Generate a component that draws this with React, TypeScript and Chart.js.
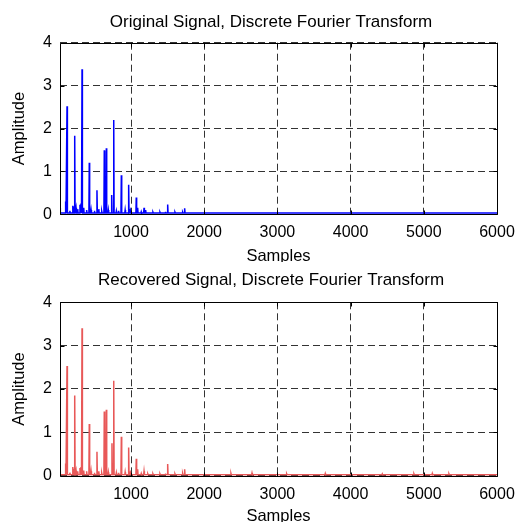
import React, { useEffect, useRef } from "react";
import { Chart, registerables } from "chart.js";

Chart.register(...registerables);

// ---- data ----
const xTicks = [1000, 2000, 3000, 4000, 5000, 6000];
const yTicks = [0, 1, 2, 3, 4];
const xMin = 30;
const xMax = 6000;

const titleTop = "Original Signal, Discrete Fourier Transform";
const titleBottom = "Recovered Signal, Discrete Fourier Transform";
const xLabel = "Samples";
const yLabel = "Amplitude";

// Original signal spectrum: peak positions (samples) and amplitudes
const origX = [32, 107, 126, 165, 203, 212, 231, 249, 272, 303, 317, 331, 354, 394, 430, 455, 500, 535, 560, 600, 635, 663, 690, 736, 764, 800, 830, 868, 920, 968, 990, 1072, 1091, 1140, 1178, 1200, 1300, 1396, 1470, 1501, 1601, 1706, 1733];
const origAmp = [0.15, 0.3, 2.52, 0.08, 0.2, 0.18, 1.83, 0.15, 0.12, 0.22, 0.25, 3.38, 0.15, 0.1, 1.2, 0.1, 0.08, 0.56, 0.12, 0.07, 1.49, 1.54, 0.1, 0.45, 2.2, 0.08, 0.08, 0.91, 0.1, 0.69, 0.1, 0.39, 0.15, 0.06, 0.15, 0.1, 0.05, 0.05, 0.06, 0.23, 0.05, 0.05, 0.14];
const origBase = 0.03;

// Recovered signal spectrum
const recX = [32, 107, 126, 165, 203, 212, 231, 249, 272, 303, 317, 331, 354, 394, 430, 455, 500, 535, 560, 600, 635, 663, 690, 740, 764, 800, 830, 868, 920, 968, 990, 1072, 1091, 1140, 1178, 1230, 1300, 1396, 1470, 1501, 1601, 1706, 1733, 2366, 2653, 3127, 3654, 4433, 4866, 5116, 5344];
const recAmp = [0.1, 0.28, 2.53, 0.07, 0.2, 0.16, 1.85, 0.12, 0.1, 0.18, 0.2, 3.4, 0.12, 0.1, 1.19, 0.1, 0.07, 0.55, 0.1, 0.06, 1.48, 1.52, 0.08, 0.75, 2.19, 0.07, 0.07, 0.9, 0.08, 0.65, 0.08, 0.39, 0.15, 0.05, 0.1, 0.04, 0.04, 0.04, 0.05, 0.27, 0.04, 0.05, 0.15, 0.05, 0.06, 0.04, 0.05, 0.04, 0.04, 0.05, 0.04];
const recBase = 0.02;

const FONT = "'Liberation Sans', Arial, Helvetica, sans-serif";

function buildSeries(xs: number[], amps: number[], base: number) {
  const pts: { x: number; y: number }[] = [{ x: xMin, y: base }];
  xs.forEach((p, i) => {
    pts.push({ x: p - 5, y: base });
    pts.push({ x: p, y: amps[i] });
    pts.push({ x: p + 5, y: base });
  });
  pts.push({ x: xMax, y: base });
  return pts.filter((d) => d.x >= xMin).sort((a, b) => a.x - b.x);
}

const boxPlugin = {
  id: "matlabBox",
  afterDraw(chart: any) {
    const { ctx, chartArea: a, scales } = chart;
    ctx.save();
    ctx.strokeStyle = "#000";
    ctx.lineWidth = 1;
    ctx.setLineDash([]);
    const L = Math.round(a.left) + 0.5;
    const R = Math.round(a.right) + 0.5;
    const T = Math.round(a.top) + 0.5;
    const B = Math.round(a.bottom) + 0.5;
    ctx.beginPath();
    ctx.rect(L, T, R - L, B - T);
    xTicks.forEach((v) => {
      const x = Math.round(scales.x.getPixelForValue(v)) + 0.5;
      ctx.moveTo(x, B);
      ctx.lineTo(x, B - 4);
      ctx.moveTo(x, T);
      ctx.lineTo(x, T + 4);
    });
    yTicks.forEach((v) => {
      const y = Math.round(scales.y.getPixelForValue(v)) + 0.5;
      ctx.moveTo(L, y);
      ctx.lineTo(L + 4, y);
      ctx.moveTo(R, y);
      ctx.lineTo(R - 4, y);
    });
    ctx.stroke();
    // panel title (centred like the reference)
    const t = chart.options.plugins.panelTitle;
    ctx.fillStyle = "#000";
    ctx.font = `17px ${FONT}`;
    ctx.textAlign = "center";
    ctx.textBaseline = "middle";
    ctx.fillText(t.text, t.x, t.y);
    ctx.restore();
  },
};

type PanelProps = {
  title: string;
  data: { x: number; y: number }[];
  color: string;
  height: number;
  plotTop: number;
  plotBottom: number;
  titleY: number;
};

function Panel({ title, data, color, height, plotTop, plotBottom, titleY }: PanelProps) {
  const ref = useRef<HTMLCanvasElement | null>(null);
  useEffect(() => {
    if (!ref.current) return;
    const chart = new Chart(ref.current, {
      type: "line",
      data: {
        datasets: [
          {
            data,
            borderColor: color,
            borderWidth: 1.5,
            pointRadius: 0,
            tension: 0,
            fill: false,
          },
        ],
      },
      options: {
        animation: false,
        responsive: false,
        devicePixelRatio: 1,
        layout: { padding: { left: 0, right: 19, top: plotTop, bottom: 0 } },
        plugins: {
          legend: { display: false },
          tooltip: { enabled: false },
          title: { display: false },
          panelTitle: { text: title, x: 271, y: titleY },
        },
        scales: {
          x: {
            type: "linear",
            min: xMin,
            max: xMax,
            afterBuildTicks: (s: any) => {
              s.ticks = xTicks.map((v) => ({ value: v }));
            },
            afterFit: (s: any) => {
              s.height = height - plotBottom;
              s.paddingLeft = 0;
              s.paddingRight = 0;
            },
            grid: {
              color: "rgba(0,0,0,0.8)",
              lineWidth: 1,
              drawTicks: false,
            },
            border: { display: false, dash: [7, 4] },
            ticks: {
              color: "#000",
              font: { family: FONT, size: 16 },
              padding: 9,
              autoSkip: false,
              maxRotation: 0,
              callback: (v: any) => String(v),
            },
            title: {
              display: true,
              text: xLabel,
              color: "#000",
              font: { family: FONT, size: 16.5, lineHeight: 1.2 },
              padding: { top: 0, bottom: -4.5 },
            },
          },
          y: {
            type: "linear",
            min: 0,
            max: 4,
            afterBuildTicks: (s: any) => {
              s.ticks = yTicks.map((v) => ({ value: v }));
            },
            afterFit: (s: any) => {
              s.width = 60;
              s.paddingTop = 0;
              s.paddingBottom = 0;
            },
            grid: {
              color: "rgba(0,0,0,0.8)",
              lineWidth: 1,
              drawTicks: false,
            },
            border: { display: false, dash: [7, 4] },
            ticks: {
              color: "#000",
              font: { family: FONT, size: 16 },
              padding: 8,
              callback: (v: any) => String(v),
            },
            title: {
              display: true,
              text: yLabel,
              color: "#000",
              font: { family: FONT, size: 16.5, lineHeight: 1.2 },
              padding: { top: 9.2, bottom: 0 },
            },
          },
        },
      } as any,
      plugins: [boxPlugin],
    });
    return () => chart.destroy();
  }, []);
  return <canvas ref={ref} width={516} height={height} style={{ display: "block" }} />;
}

export default function App() {
  const orig = buildSeries(origX, origAmp, origBase);
  const rec = buildSeries(recX, recAmp, recBase);
  return (
    <div style={{ position: "absolute", left: 0, top: 0, width: 516, height: 522, background: "#fff" }}>
      <Panel title={titleTop} data={orig} color="#0000ff" height={262} plotTop={42.7} plotBottom={214.3} titleY={22} />
      <Panel title={titleBottom} data={rec} color="rgb(232,88,88)" height={260} plotTop={40.3} plotBottom={213.7} titleY={18.5} />
    </div>
  );
}
